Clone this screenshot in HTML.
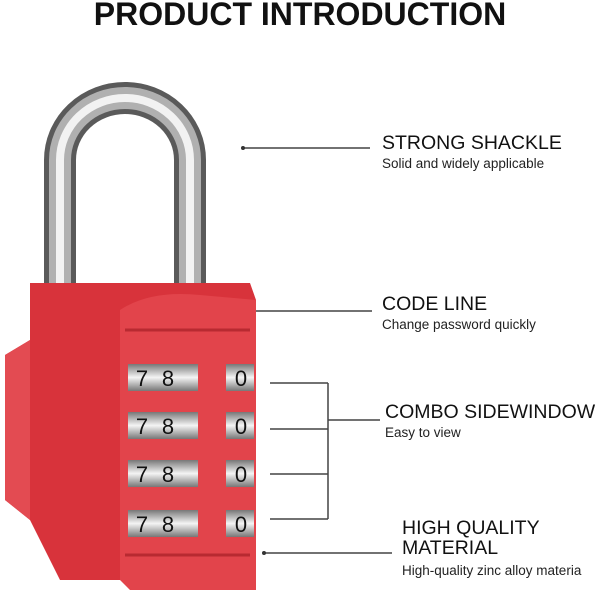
<!DOCTYPE html>
<html><head><style>
body{margin:0;width:600px;height:600px;background:#fff;overflow:hidden;font-family:"Liberation Sans",sans-serif}
.t{position:absolute;color:#111;font-size:19.5px}
.s{position:absolute;color:#222;font-size:13.5px}
</style></head><body>
<div style="position:absolute;left:0;width:600px;text-align:center;font-weight:bold;font-size:32px;color:#111;top:-4px">PRODUCT INTRODUCTION</div>
<svg width="600" height="600" style="position:absolute;left:0;top:0">
<defs>
<linearGradient id="dg" x1="0" y1="0" x2="0" y2="1"><stop offset="0" stop-color="#777"/><stop offset=".5" stop-color="#f4f4f4"/><stop offset="1" stop-color="#777"/></linearGradient>
</defs>
<path d="M60 290 V160 A65 62 0 0 1 190 160 V290" fill="none" stroke="#5a5a5a" stroke-width="32"/>
<path d="M60 290 V160 A65 62 0 0 1 190 160 V290" fill="none" stroke="#b0b0b0" stroke-width="22"/>
<path d="M60 290 V160 A65 62 0 0 1 190 160 V290" fill="none" stroke="#f2f2f2" stroke-width="8"/>
<path d="M30 283 L250 283 L256 300 L256 580 L60 580 L30 520 L5 500 L5 355 L30 340 Z" fill="#d8333b"/>
<path d="M5 355 L30 340 L30 520 L5 500 Z" fill="#e34b52"/>
<path d="M120 310 Q150 290 200 295 L256 300 L256 590 L130 590 L120 580 Z" fill="#e2444b"/>
<path d="M125 330 L250 330" stroke="#b82a31" stroke-width="3"/>
<path d="M125 555 L250 555" stroke="#b82a31" stroke-width="3"/>
<g font-family="Liberation Sans" font-size="22" fill="#111" text-anchor="middle">
<g id="r"><rect x="128" y="364" width="70" height="27" fill="url(#dg)"/><rect x="226" y="364" width="28" height="27" fill="url(#dg)"/>
<text x="142" y="386">7</text><text x="168" y="386">8</text><text x="241" y="386">0</text></g>
<use href="#r" y="48"/><use href="#r" y="96"/><use href="#r" y="146"/>
</g>
<g stroke="#444" stroke-width="1.5" fill="none">
<path d="M243 148 H370"/><path d="M256 311 H372"/>
<path d="M270 383 H328 M270 429 H328 M270 474 H328 M270 519 H328 M328 383 V519 M328 420 H380"/>
<path d="M264 553 H392"/>
</g>
<circle cx="243" cy="148" r="2" fill="#333"/><circle cx="264" cy="553" r="2" fill="#333"/>
</svg>
<div class="t" style="left:382px;top:132px">STRONG SHACKLE</div>
<div class="s" style="left:382px;top:156px">Solid and widely applicable</div>
<div class="t" style="left:382px;top:293px">CODE LINE</div>
<div class="s" style="left:382px;top:317px">Change password quickly</div>
<div class="t" style="left:385px;top:401px">COMBO SIDEWINDOW</div>
<div class="s" style="left:385px;top:425px">Easy to view</div>
<div class="t" style="left:402px;top:518px;line-height:20px">HIGH QUALITY<br>MATERIAL</div>
<div class="s" style="left:402px;top:563px">High-quality zinc alloy materia</div>
</body></html>
